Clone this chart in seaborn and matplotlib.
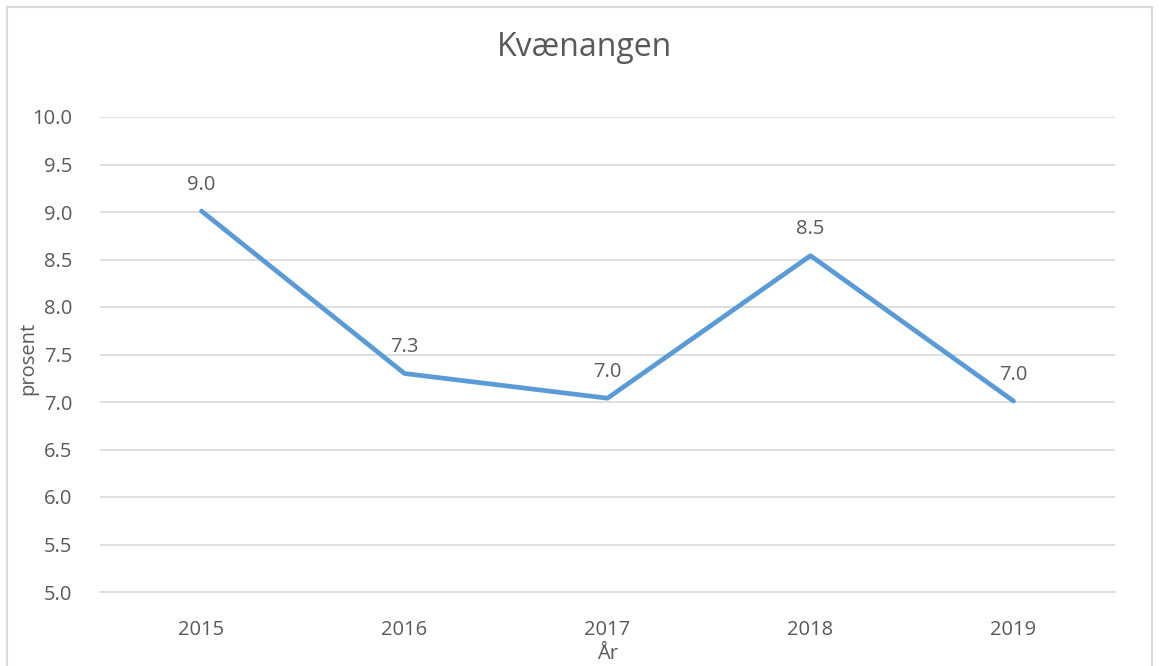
import matplotlib
matplotlib.use("Agg")
import matplotlib.pyplot as plt
import seaborn as sns
import pandas as pd
from matplotlib.patches import Rectangle

years = ["2015", "2016", "2017", "2018", "2019"]
values = [9.01, 7.30, 7.04, 8.54, 7.01]
labels = ["9.0", "7.3", "7.0", "8.5", "7.0"]
yticks = [5.0, 5.5, 6.0, 6.5, 7.0, 7.5, 8.0, 8.5, 9.0, 9.5, 10.0]
title = "Kvænangen"
xlabel = "År"
ylabel = "prosent"

sns.set_theme(style="white")
plt.rcParams['font.family'] = ['Open Sans', 'DejaVu Sans']

TXT = "#595959"
GRID = "#D9D9D9"
LINE = "#5B9BD5"
FS = 14.5

fig = plt.figure(figsize=(11.59, 6.66), dpi=100)
fig.patch.set_facecolor("white")
fig.patches.append(Rectangle((7/1159, -0.05), 1145/1159, 1 - 7/666 + 0.05,
                             transform=fig.transFigure, fill=False,
                             edgecolor=GRID, linewidth=1.5))

ax = fig.add_axes([100/1159, 1 - 592/666, 1015/1159, 475/666])
df = pd.DataFrame({"year": years, "value": values})
sns.lineplot(data=df, x="year", y="value", ax=ax, color=LINE, linewidth=3.4,
             sort=False)

ax.set_xlim(-0.5, len(years) - 0.5)
ax.set_ylim(5.0, 10.0)
ax.set_yticks(yticks)
ax.set_yticklabels([f"{t:.1f}" for t in yticks])
ax.yaxis.grid(True, color=GRID, linewidth=1.2)
ax.set_axisbelow(True)
for s in ["top", "right", "left"]:
    ax.spines[s].set_visible(False)
ax.spines["bottom"].set_color(GRID)
ax.spines["bottom"].set_linewidth(1.2)

ax.set_xticks(range(len(years)))
ax.set_xticklabels(years)
ax.set_xticks([i - 0.5 for i in range(len(years) + 1)], minor=True)
ax.tick_params(axis="x", which="major", length=0, pad=20, labelsize=FS, labelcolor=TXT)
ax.tick_params(axis="x", which="minor", length=5, width=1.2, color=GRID, direction="out")
ax.tick_params(axis="y", length=0, pad=20, labelsize=FS, labelcolor=TXT)

ax.set_xlabel(xlabel, fontsize=FS, color=TXT)
ax.xaxis.set_label_coords(0.5, -(664 - 592) / 475)
ax.xaxis.label.set_va("bottom")
ax.set_ylabel(ylabel, fontsize=FS, color=TXT)
ax.yaxis.set_label_coords(-62/1015, (592 - 358) / 475)

for i, (v, lab) in enumerate(zip(values, labels)):
    ax.annotate(lab, (i, v), xytext=(0, 19), textcoords="offset points",
                ha="center", va="center", fontsize=FS, color=TXT)

fig.text(585/1159, 1 - 47/666, title, ha="center", va="center", fontsize=23, color=TXT)

fig.savefig("out.png", dpi=100, facecolor="white")
